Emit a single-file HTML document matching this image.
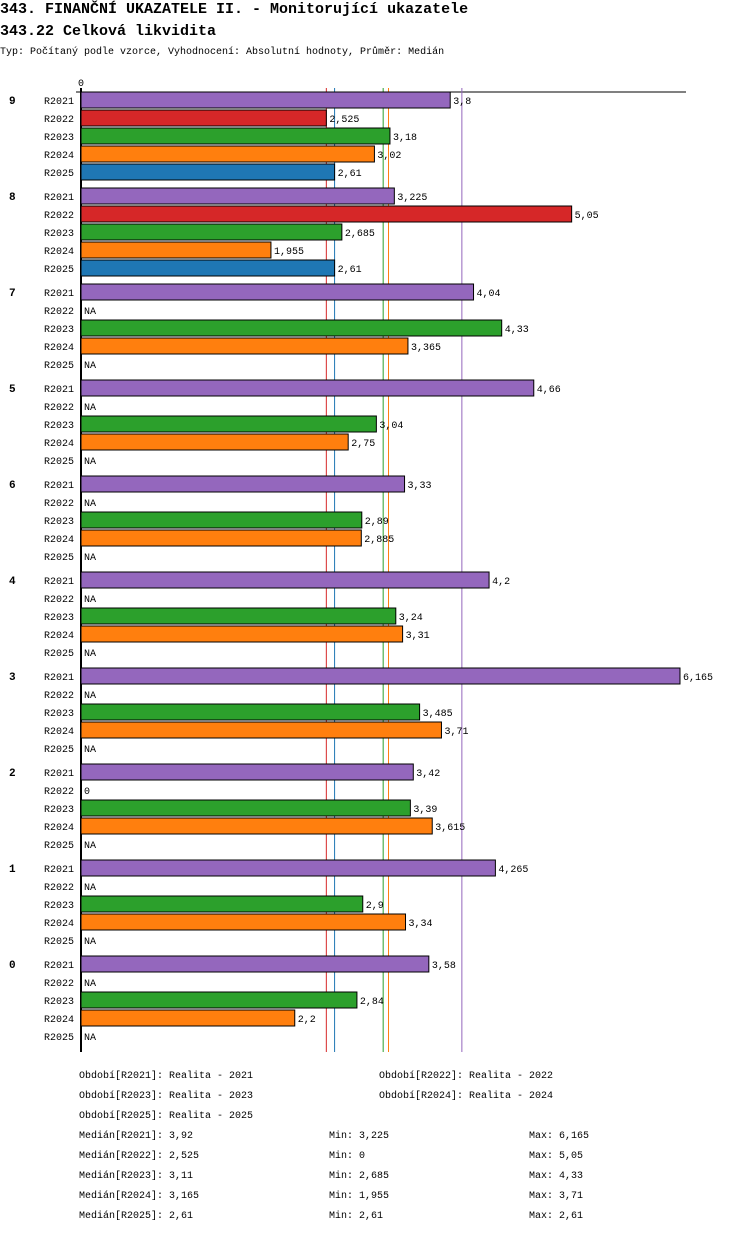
<!DOCTYPE html>
<html><head><meta charset="utf-8"><style>
body{margin:0;background:#fff;width:750px;height:1232px;overflow:hidden}
svg text{font-family:"Liberation Mono",monospace;fill:#000}
</style></head><body>
<svg id="c" width="750" height="1232">
<text x="0" y="13" font-size="15" font-weight="bold">343. FINANČNÍ UKAZATELE II. - Monitorující ukazatele</text>
<text x="0" y="35" font-size="15" font-weight="bold">343.22 Celková likvidita</text>
<text x="0" y="54" font-size="10">Typ: Počítaný podle vzorce, Vyhodnocení: Absolutní hodnoty, Průměr: Medián</text>
<text x="78" y="86" font-size="10">0</text>
<line x1="76" y1="92" x2="686" y2="92" stroke="#000"/>
</svg>
<script>
const groups=["9","8","7","5","6","4","3","2","1","0"];
const series=["R2021","R2022","R2023","R2024","R2025"];
const colors=["#9467bd","#d62728","#2ca02c","#ff7f0e","#1f77b4"];
const v2021=[3.8,3.225,4.04,4.66,3.33,4.2,6.165,3.42,4.265,3.58];
const v2022=[2.525,5.05,null,null,null,null,null,0,null,null];
const v2023=[3.18,2.685,4.33,3.04,2.89,3.24,3.485,3.39,2.9,2.84];
const v2024=[3.02,1.955,3.365,2.75,2.885,3.31,3.71,3.615,3.34,2.2];
const v2025=[2.61,2.61,null,null,null,null,null,null,null,null];
const medians=[3.92,2.525,3.11,3.165,2.61];
const mins=[3.225,0,2.685,1.955,2.61];
const maxs=[6.165,5.05,4.33,3.71,2.61];
const vals=[v2021,v2022,v2023,v2024,v2025];
const NS="http://www.w3.org/2000/svg";
const svg=document.getElementById('c');
const x=v=>81+v*97.16;
const y=(g,r)=>100+g*96+r*18;
const fmt=v=>String(v).replace('.',',');
function mk(t,a,txt){const e=document.createElementNS(NS,t);for(const k in a)e.setAttribute(k,a[k]);if(txt!=null)e.textContent=txt;svg.appendChild(e);return e;}
medians.forEach((m,i)=>{
 const l=mk('line',{x1:x(m),x2:x(m),y1:88,y2:1052,stroke:colors[i]});
 
 
});
const ax=mk('line',{x1:81,x2:81,y1:88,y2:1052,stroke:'#000','stroke-width':2});


groups.forEach((g,gi)=>{
 const gl=mk('text',{x:9,y:y(gi,0)+4,'font-size':11,'font-weight':'bold'},g);
 
 
 series.forEach((s,si)=>{
  const cy=y(gi,si);
  const sl=mk('text',{x:44,y:cy+4,'font-size':10},s);
  
  
  const v=vals[si][gi];
  if(v==null){
   const na=mk('text',{x:84,y:cy+4,'font-size':10},'NA');
   
   
   return;
  }
  if(v>0){
   const b=mk('rect',{x:81,y:cy-8,width:x(v)-81,height:16,fill:colors[si],stroke:'#000','stroke-width':1});
   
   
  }
  const vl=mk('text',{x:x(v)+3,y:cy+4,'font-size':10},fmt(v));
  
  
 });
});
const leg=[["Období[R2021]: Realita - 2021",79,1078],["Období[R2022]: Realita - 2022",379,1078],["Období[R2023]: Realita - 2023",79,1098],["Období[R2024]: Realita - 2024",379,1098],["Období[R2025]: Realita - 2025",79,1118]];
leg.forEach(l=>{const t=mk('text',{x:l[1],y:l[2],'font-size':10},l[0]);
 
 });
series.forEach((s,i)=>{
 const yy=1138+i*20;
 const a=mk('text',{x:79,y:yy,'font-size':10},'Medián['+s+']: '+fmt(medians[i]));
 
 
 const b=mk('text',{x:329,y:yy,'font-size':10},'Min: '+fmt(mins[i]));
 
 
 const c=mk('text',{x:529,y:yy,'font-size':10},'Max: '+fmt(maxs[i]));
 
 
});
</script>
</body></html>
